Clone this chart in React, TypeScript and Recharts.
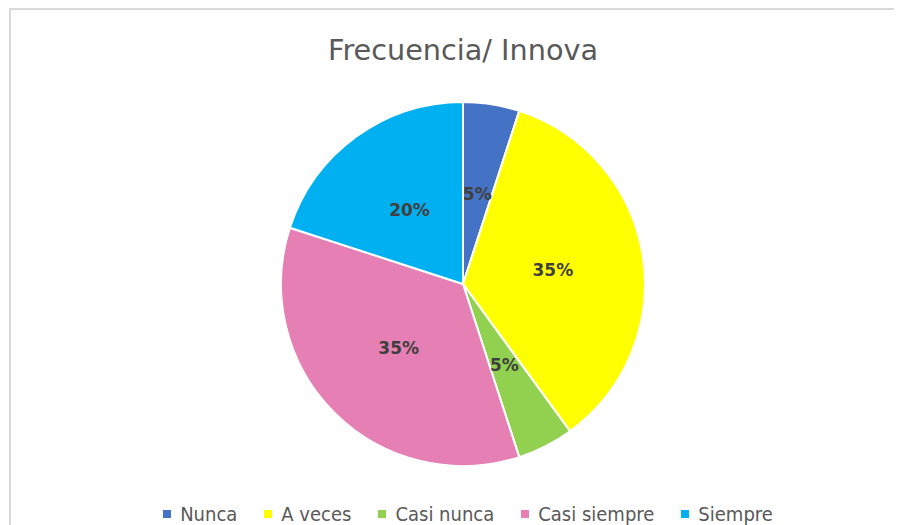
import React from 'react';
import { PieChart, Pie, Cell, Legend } from 'recharts';

const categories = ['Nunca', 'A veces', 'Casi nunca', 'Casi siempre', 'Siempre'];
const values = [5, 35, 5, 35, 20];
const colors = ['#4472C4', '#FFFF00', '#92D050', '#E67FB4', '#00B0F0'];

const data = categories.map((name, i) => ({ name, value: values[i] }));

const FONT = '"DejaVu Sans", sans-serif';
const RAD = Math.PI / 180;

const renderLabel = ({ cx, cy, midAngle, outerRadius, value }: any) => {
  const r = outerRadius * 0.5;
  const x = cx + r * Math.cos(-midAngle * RAD);
  const y = cy + r * Math.sin(-midAngle * RAD);
  return (
    <text x={x} y={y} fill="#404040" fontFamily={FONT} fontSize={17} fontWeight="bold"
      textAnchor="middle" dominantBaseline="central">
      {`${value}%`}
    </text>
  );
};

const LegendContent = () => (
  <div style={{ display: 'flex', justifyContent: 'center', gap: 27, fontFamily: '"DejaVu Sans Condensed", "DejaVu Sans", sans-serif', fontStretch: 'condensed', fontSize: 20, color: '#595959', lineHeight: '22px' }}>
    {data.map((d, i) => (
      <div key={d.name} style={{ display: 'flex', alignItems: 'center' }}>
        <span style={{ width: 8, height: 8, background: colors[i], marginRight: 9, display: 'inline-block' }} />
        <span>{d.name}</span>
      </div>
    ))}
  </div>
);

export default function App() {
  return (
    <div style={{ position: 'relative', width: 894, height: 517, overflow: 'hidden', background: '#fff' }}>
      <div style={{ position: 'absolute', left: 1, top: 0, width: 1000, height: 1000, borderLeft: '2px solid #d9d9d9', borderTop: '2px solid #d9d9d9' }} />
      <PieChart width={894} height={517} style={{ position: 'absolute', left: 0, top: 0 }}>
        <text x={455} y={42} textAnchor="middle" dominantBaseline="central" fontFamily={FONT} fontSize={28.7} fill="#595959">
          Frecuencia/ Innova
        </text>
        <Pie data={data} dataKey="value" nameKey="name" cx={450} cy={271} outerRadius={182}
          startAngle={90} endAngle={-270} stroke="#fff" strokeWidth={2}
          label={renderLabel} labelLine={false} isAnimationActive={false}>
          {data.map((d, i) => <Cell key={d.name} fill={colors[i]} />)}
        </Pie>
        <Legend content={<LegendContent />} wrapperStyle={{ position: 'absolute', left: 13, top: 495, width: 894 }} />
      </PieChart>
    </div>
  );
}
